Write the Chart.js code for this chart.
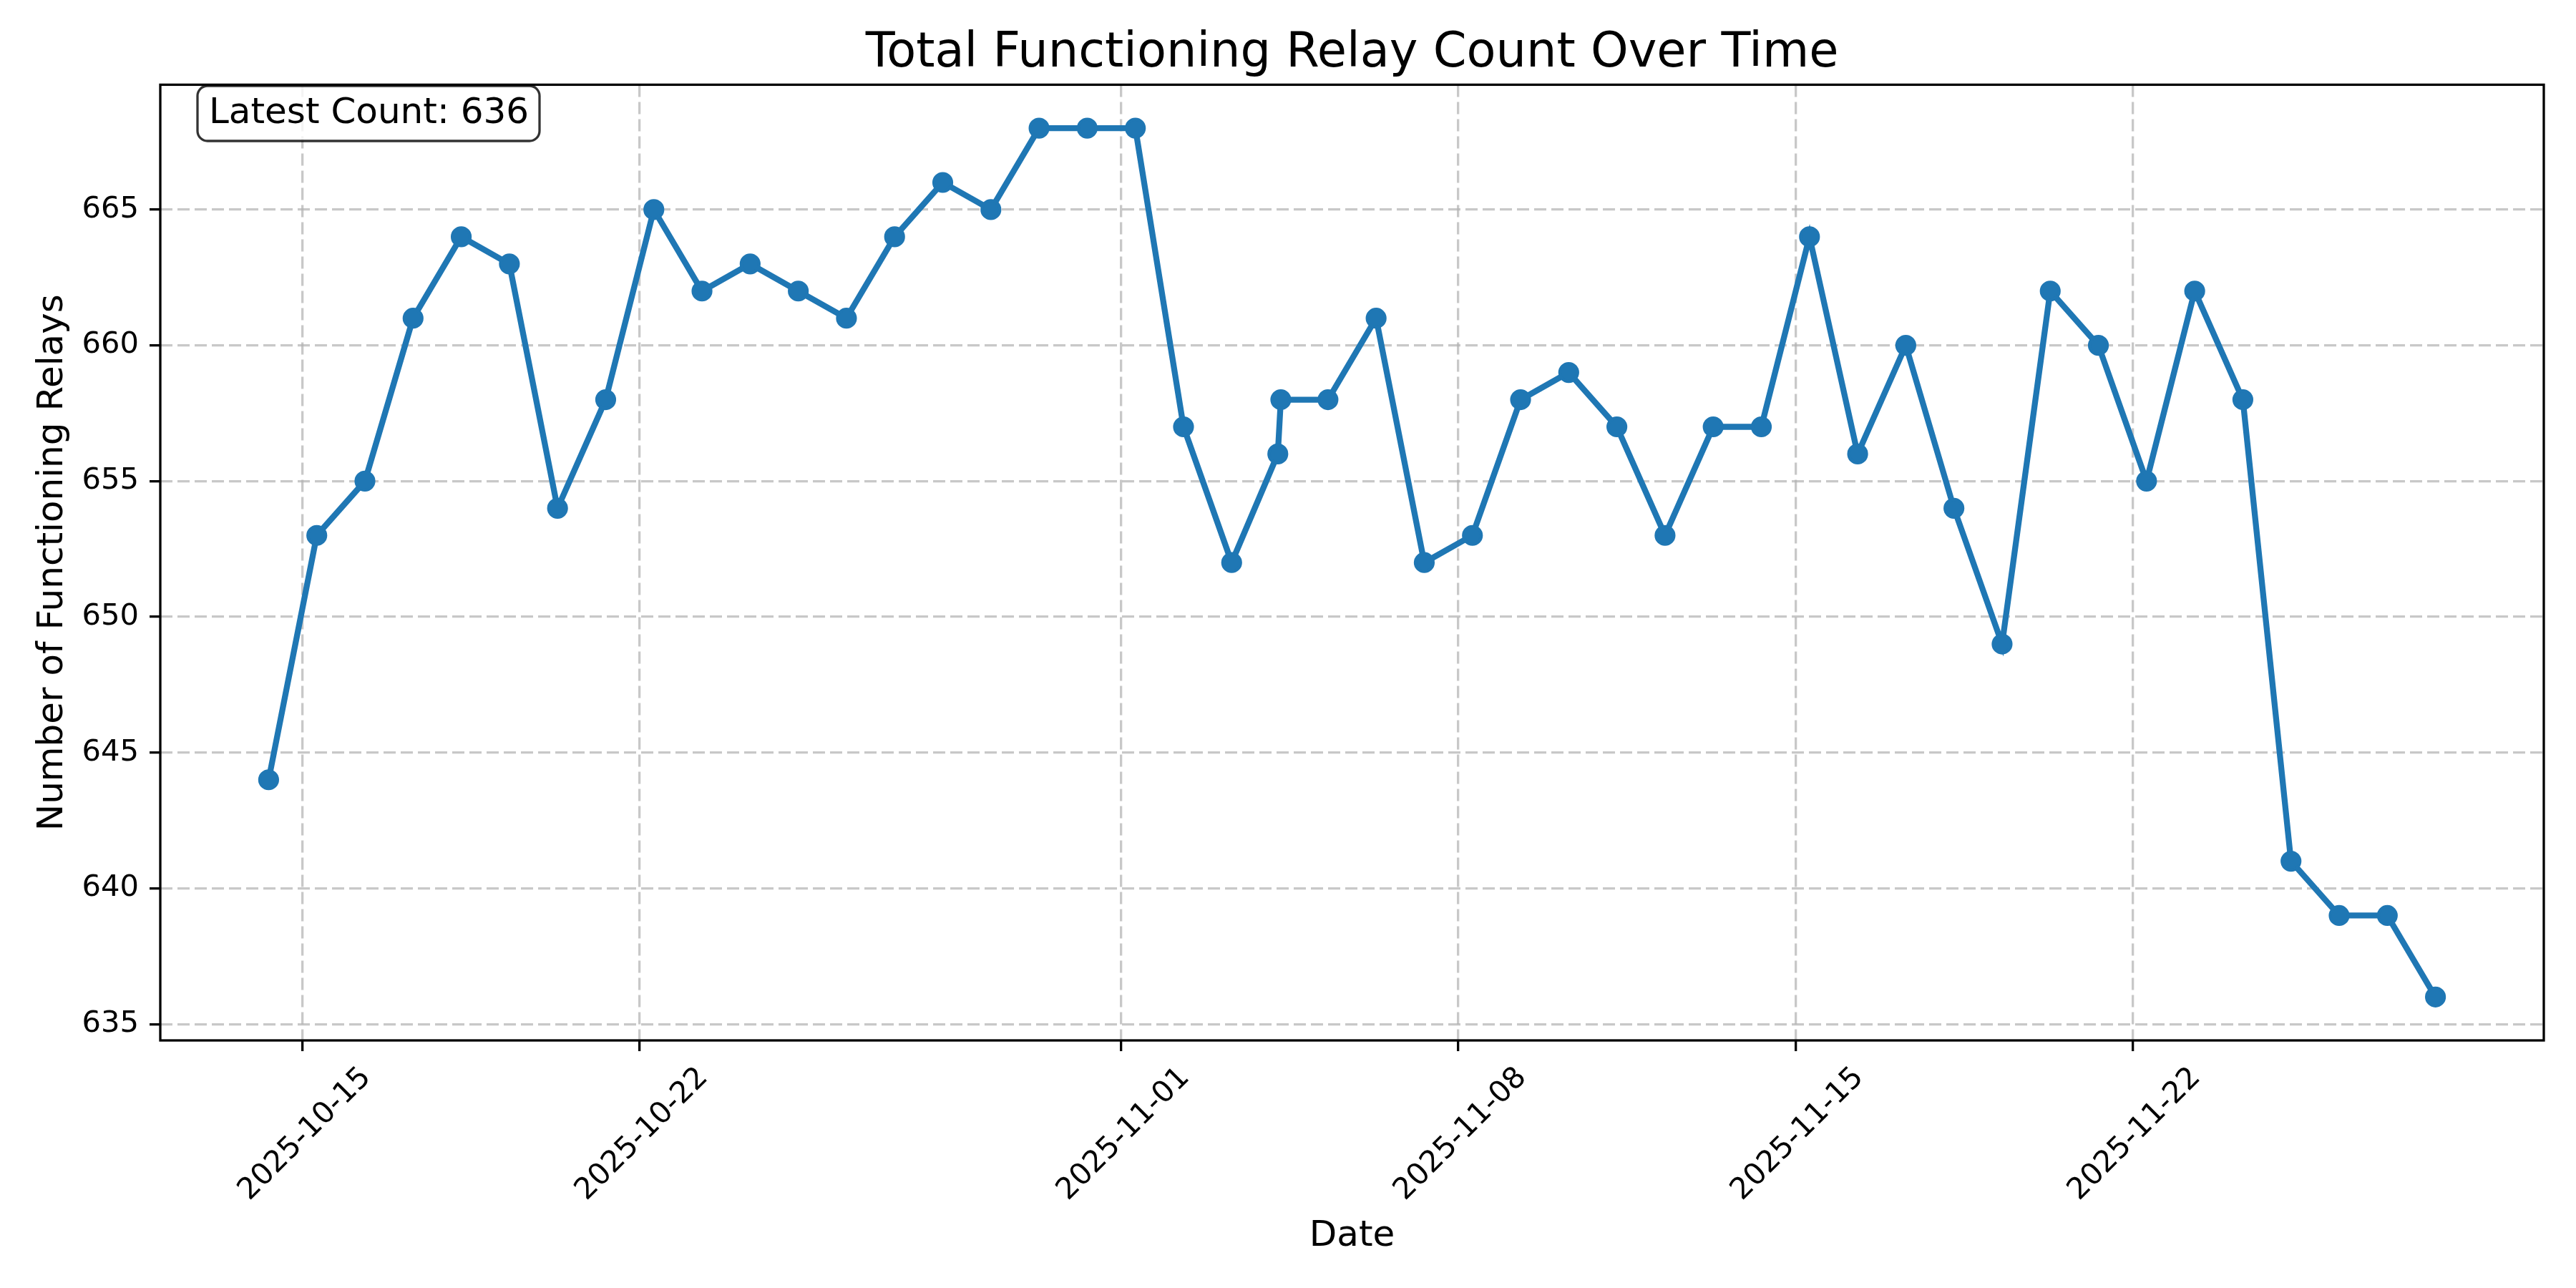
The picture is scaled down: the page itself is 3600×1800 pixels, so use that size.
<!DOCTYPE html>
<html>
<head>
<meta charset="utf-8">
<script src="https://cdn.jsdelivr.net/npm/chart.js@4.4.1/dist/chart.umd.min.js"></script>
<style>
  html, body { margin: 0; padding: 0; background: #fff; }
  canvas { display: block; }
</style>
</head>
<body>
<canvas id="chartRelays" width="3600" height="1800"></canvas>
<script>
// one reading per day, with a second one on 11-04
var dates = [
    '2025-10-14T07:00', '2025-10-15T07:00', '2025-10-16T07:00', '2025-10-17T07:00',
    '2025-10-18T07:00', '2025-10-19T07:00', '2025-10-20T07:00', '2025-10-21T07:00',
    '2025-10-22T07:00', '2025-10-23T07:00', '2025-10-24T07:00', '2025-10-25T07:00',
    '2025-10-26T07:00', '2025-10-27T07:00', '2025-10-28T07:00', '2025-10-29T07:00',
    '2025-10-30T07:00', '2025-10-31T07:00', '2025-11-01T07:00', '2025-11-02T07:00',
    '2025-11-03T07:00', '2025-11-04T06:00', '2025-11-04T07:30', '2025-11-05T07:00',
    '2025-11-06T07:00', '2025-11-07T07:00', '2025-11-08T07:00', '2025-11-09T07:00',
    '2025-11-10T07:00', '2025-11-11T07:00', '2025-11-12T07:00', '2025-11-13T07:00',
    '2025-11-14T07:00', '2025-11-15T07:00', '2025-11-16T07:00', '2025-11-17T07:00',
    '2025-11-18T07:00', '2025-11-19T07:00', '2025-11-20T07:00', '2025-11-21T07:00',
    '2025-11-22T07:00', '2025-11-23T07:00', '2025-11-24T07:00', '2025-11-25T07:00',
    '2025-11-26T07:00', '2025-11-27T07:00', '2025-11-28T07:00'
]
var counts = [
    644, 653, 655, 661, 664, 663, 654, 658, 665, 662, 663, 662,
    661, 664, 666, 665, 668, 668, 668, 657, 652, 656, 658, 658,
    661, 652, 653, 658, 659, 657, 653, 657, 657, 664, 656, 660,
    654, 649, 662, 660, 655, 662, 658, 641, 639, 639, 636
]
var tickLabels = ['2025-10-15', '2025-10-22', '2025-11-01', '2025-11-08', '2025-11-15', '2025-11-22']
var yTicks = [635, 640, 645, 650, 655, 660, 665]

var FONT = "'DejaVu Sans', 'Liberation Sans', sans-serif"
var BLUE = '#1f77b4'

function toMs(s) {
    return Date.parse(s + ':00Z')
}

var points = dates.map(function (d, i) {
    return { x: toMs(d), y: counts[i] }
})

// matplotlib style 5% margins
var xs = points.map(function (p) { return p.x })
var xMin = Math.min.apply(null, xs), xMax = Math.max.apply(null, xs)
var xPad = (xMax - xMin) * 0.05
var yMin = Math.min.apply(null, counts), yMax = Math.max.apply(null, counts)
var yPad = (yMax - yMin) * 0.05

var gridStyle = {
    color: 'rgba(176,176,176,0.7)',
    lineWidth: 3.3,
    drawTicks: true,
    tickLength: 15,
    tickColor: '#000',
    tickWidth: 3.3,
    tickBorderDash: []
}
// in v4 the dash of the grid lines lives under border
var borderStyle = { display: false, dash: [17, 7] }

//Moldura e caixa "Latest Count"//
var framePlugin = {
    id: 'frame',
    afterDatasetsDraw: function (chart) {
        var ctx = chart.ctx
        var a = chart.chartArea
        ctx.save()
        ctx.strokeStyle = '#000'
        ctx.lineWidth = 3.3
        ctx.setLineDash([])
        ctx.strokeRect(a.left, a.top, a.right - a.left, a.bottom - a.top)

        var bx = 276, by = 120, bw = 478, bh = 77, r = 14
        ctx.beginPath()
        ctx.moveTo(bx + r, by)
        ctx.lineTo(bx + bw - r, by)
        ctx.arcTo(bx + bw, by, bx + bw, by + r, r)
        ctx.lineTo(bx + bw, by + bh - r)
        ctx.arcTo(bx + bw, by + bh, bx + bw - r, by + bh, r)
        ctx.lineTo(bx + r, by + bh)
        ctx.arcTo(bx, by + bh, bx, by + bh - r, r)
        ctx.lineTo(bx, by + r)
        ctx.arcTo(bx, by, bx + r, by, r)
        ctx.closePath()
        ctx.fillStyle = 'rgba(255,255,255,0.8)'
        ctx.fill()
        ctx.strokeStyle = 'rgba(0,0,0,0.8)'
        ctx.lineWidth = 3.3
        ctx.stroke()

        ctx.fillStyle = '#000'
        ctx.font = '50px ' + FONT
        ctx.textAlign = 'left'
        ctx.textBaseline = 'alphabetic'
        ctx.fillText('Latest Count: ' + counts[counts.length - 1], 292, 172)
        ctx.restore()
    }
}

var ctxRelays = document.getElementById('chartRelays')

var chartRelays = new Chart(ctxRelays, {
    type: 'line',
    data: {
        datasets: [{
            label: 'Functioning Relays',
            data: points,
            borderColor: BLUE,
            backgroundColor: BLUE,
            borderWidth: 8.3,
            pointRadius: 12.5,
            pointBorderWidth: 4.2,
            pointBorderColor: BLUE,
            pointBackgroundColor: BLUE,
            tension: 0,
            fill: false
        }]
    },
    plugins: [framePlugin],
    options: {
        responsive: false,
        animation: false,
        devicePixelRatio: 1,
        layout: {
            padding: { left: 0, right: 45, top: 0, bottom: 0 }
        },
        plugins: {
            legend: { display: false },
            tooltip: { enabled: false },
            title: {
                display: true,
                fullSize: false,
                text: 'Total Functioning Relay Count Over Time',
                color: '#000',
                font: { family: FONT, size: 67, weight: 'normal', lineHeight: 1.2 },
                padding: { top: 35, bottom: 3 }
            }
        },
        scales: {
            x: {
                type: 'linear',
                min: xMin - xPad,
                max: xMax + xPad,
                afterFit: function (scale) { scale.height = 346 },
                afterBuildTicks: function (scale) {
                    scale.ticks = tickLabels.map(function (t) {
                        return { value: toMs(t + 'T00:00') }
                    })
                },
                grid: gridStyle,
                border: borderStyle,
                ticks: {
                    autoSkip: false,
                    maxRotation: 45,
                    minRotation: 45,
                    padding: 13,
                    labelOffset: 89,
                    color: '#000',
                    font: { family: FONT, size: 41.7 },
                    callback: function (value, index) {
                        return tickLabels[index]
                    }
                },
                title: {
                    display: true,
                    text: 'Date',
                    color: '#000',
                    font: { family: FONT, size: 50 },
                    padding: { top: 0, bottom: 42 }
                }
            },
            y: {
                type: 'linear',
                min: yMin - yPad,
                max: yMax + yPad,
                afterFit: function (scale) { scale.width = 224 },
                afterBuildTicks: function (scale) {
                    scale.ticks = yTicks.map(function (v) { return { value: v } })
                },
                grid: gridStyle,
                border: borderStyle,
                ticks: {
                    padding: 15,
                    color: '#000',
                    font: { family: FONT, size: 41.7 }
                },
                title: {
                    display: true,
                    text: 'Number of Functioning Relays',
                    color: '#000',
                    font: { family: FONT, size: 50 },
                    padding: { top: 44, bottom: 0 }
                }
            }
        }
    }
})
</script>
</body>
</html>
